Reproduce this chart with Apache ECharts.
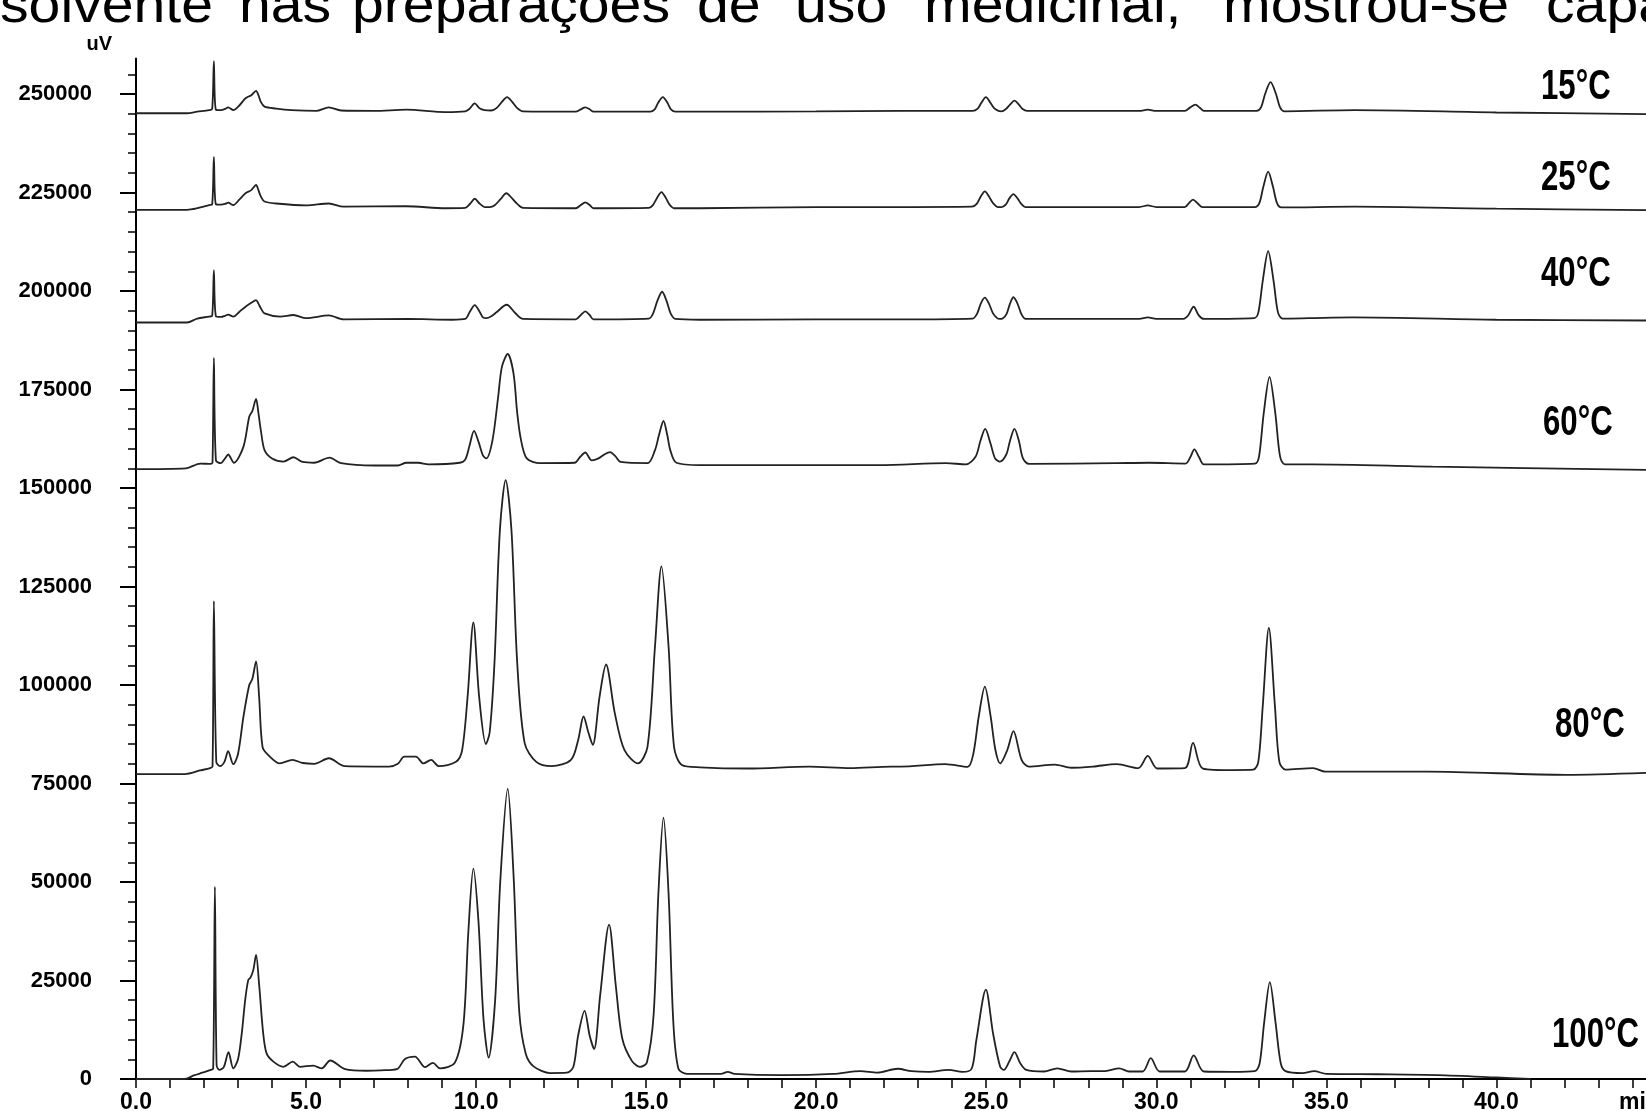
<!DOCTYPE html>
<html><head><meta charset="utf-8">
<script src="https://cdn.jsdelivr.net/npm/echarts@6/dist/echarts.min.js"></script>
<style>html,body{margin:0;padding:0;background:#fff}#c{width:1646px;height:1111px}</style>
</head><body><div id="c"></div>
<script>
// ---- data (time in min, signal in uV) ----
const traceNames = ['15°C', '25°C', '40°C', '60°C', '80°C', '100°C'];

const trace15 = [[0,245100],[1.5,245100],[1.8,245500],[2.15,245900],[2.24,246200],[2.29,258300],[2.35,246000],[2.5,245900],[2.62,246200],[2.71,246600],[2.86,245900],[3.05,247200],[3.22,248900],[3.39,249700],[3.53,250800],[3.6,249700],[3.67,248000],[3.78,246800],[4.12,246300],[4.57,245900],[5.3,245700],[5.67,246600],[6.03,245800],[7.0,245700],[7.95,246000],[9.1,245400],[9.68,245600],[9.8,246200],[9.96,247600],[10.1,246400],[10.25,245900],[10.45,245800],[10.6,246400],[10.76,248000],[10.91,249200],[11.06,248000],[11.21,246400],[11.38,245600],[12.93,245500],[13.08,246100],[13.21,246600],[13.34,246100],[13.45,245500],[15.12,245500],[15.25,246100],[15.35,247700],[15.49,249200],[15.63,247700],[15.73,246100],[15.86,245500],[16.59,245500],[20,245600],[22.47,245700],[24.6,245700],[24.75,246300],[24.86,247800],[24.99,249200],[25.12,247800],[25.23,246400],[25.36,245700],[25.45,245600],[25.58,246200],[25.7,247300],[25.83,248300],[25.96,247300],[26.07,246200],[26.2,245700],[29.5,245700],[29.75,246000],[30,245700],[30.84,245700],[31.0,246600],[31.15,247300],[31.28,246500],[31.4,245700],[32.95,245700],[33.08,246600],[33.2,250000],[33.36,253000],[33.52,250000],[33.64,246600],[33.77,245600],[35.83,245900],[40,245300],[44.4,244900]];

const trace25 = [[0,220600],[1.5,220600],[1.8,221000],[2.15,221800],[2.24,222000],[2.29,234000],[2.35,222000],[2.5,221900],[2.62,222100],[2.71,222400],[2.86,221800],[3.05,223300],[3.22,224800],[3.39,225600],[3.53,226900],[3.6,225600],[3.67,224000],[3.78,222700],[4.12,222200],[5.0,221700],[5.67,222200],[6.1,221400],[7.95,221500],[9.1,221000],[9.68,221100],[9.83,222200],[9.96,223400],[10.1,222200],[10.25,221300],[10.4,221300],[10.54,221700],[10.72,223300],[10.89,224800],[11.06,223500],[11.21,222100],[11.38,221100],[12.93,221000],[13.08,221800],[13.21,222500],[13.34,221800],[13.45,221000],[15.08,221100],[15.2,221800],[15.32,223600],[15.45,225100],[15.58,223600],[15.69,221900],[15.82,221000],[16.59,221000],[20,221300],[22.47,221300],[24.58,221400],[24.72,222100],[24.84,224000],[24.96,225300],[25.08,224000],[25.2,222300],[25.35,221300],[25.45,221300],[25.58,222000],[25.68,223500],[25.8,224600],[25.92,223500],[26.03,222100],[26.15,221300],[29.5,221300],[29.75,221700],[30,221300],[30.84,221300],[30.96,222300],[31.08,223200],[31.22,222200],[31.36,221300],[32.9,221300],[33.03,222300],[33.15,226500],[33.29,230300],[33.43,226500],[33.55,222300],[33.68,221200],[35.83,221400],[40,220900],[44.4,220500]];

const trace40 = [[0,192000],[1.5,192000],[1.8,193000],[2.15,193500],[2.24,193700],[2.29,205300],[2.35,193600],[2.5,193400],[2.62,193700],[2.71,194000],[2.86,193500],[3.05,194800],[3.22,196000],[3.39,197000],[3.53,197700],[3.6,196800],[3.67,195600],[3.78,194300],[4.24,193500],[4.63,193900],[5.0,193100],[5.67,193800],[6.1,192800],[8,192900],[9.3,192700],[9.68,192900],[9.82,194800],[9.96,196400],[10.1,194800],[10.2,193300],[10.3,193100],[10.45,193600],[10.6,194600],[10.9,196500],[11.15,194400],[11.38,192900],[12.93,192800],[13.08,193900],[13.21,194800],[13.34,193900],[13.45,192800],[15.08,193000],[15.2,194200],[15.33,197500],[15.47,199800],[15.6,197500],[15.72,194300],[15.86,192900],[16.59,192700],[20,192800],[22.47,192800],[24.6,193000],[24.73,194200],[24.84,196800],[24.96,198300],[25.08,196800],[25.2,194300],[25.32,193100],[25.4,192900],[25.48,193000],[25.6,194200],[25.7,196800],[25.8,198400],[25.92,196800],[26.03,194200],[26.16,192900],[29.5,192900],[29.75,193300],[30,192900],[30.8,192900],[30.93,193700],[31.1,196000],[31.25,193800],[31.4,192900],[32.88,193100],[33.0,194500],[33.13,202500],[33.29,210100],[33.45,202500],[33.58,194500],[33.72,193000],[34.48,193100],[35.77,193300],[40,192700],[44.4,192500]];

const trace60 = [[0,154800],[1.47,155000],[1.89,156200],[2.2,156100],[2.25,156500],[2.29,183000],[2.35,157000],[2.49,156300],[2.62,157500],[2.71,158500],[2.88,156400],[3.16,160500],[3.33,168100],[3.42,169500],[3.53,172600],[3.6,169000],[3.67,164700],[3.78,159600],[4.0,157500],[4.34,156700],[4.63,157800],[4.9,156600],[5.24,156400],[5.69,157700],[6.03,156300],[7.0,155700],[7.7,155700],[7.95,156400],[8.3,156400],[8.6,156000],[9.52,156400],[9.68,157200],[9.8,160500],[9.94,164500],[10.08,161500],[10.2,158300],[10.3,157500],[10.48,162000],[10.65,173200],[10.76,180800],[10.93,184000],[11.1,179100],[11.21,169000],[11.32,162200],[11.49,157500],[11.88,156300],[12.9,156400],[13.05,157800],[13.21,159000],[13.4,157000],[13.6,157500],[13.77,158500],[13.94,159100],[14.1,158000],[14.25,156600],[15.04,156300],[15.26,159600],[15.38,163500],[15.51,167000],[15.62,163500],[15.71,159600],[15.89,156400],[16.59,155800],[20,155800],[21.88,155800],[23.82,156300],[24.4,156000],[24.69,158000],[24.83,162000],[24.97,165000],[25.12,161500],[25.26,157500],[25.4,156700],[25.59,158500],[25.7,162000],[25.83,165000],[25.96,162000],[26.08,157500],[26.26,156100],[28.78,156300],[29.79,156400],[30.86,156200],[31.0,157800],[31.12,159800],[31.26,157800],[31.4,156000],[32.9,156200],[33.02,157900],[33.16,169000],[33.33,178200],[33.5,169000],[33.64,158000],[33.78,156000],[34.6,156000],[38.12,155400],[44.4,154600]];

const trace80 = [[0,77400],[1.44,77400],[1.88,78300],[2.18,78900],[2.25,79300],[2.29,121300],[2.36,80500],[2.47,79400],[2.6,80500],[2.71,83200],[2.86,79900],[3.0,82500],[3.16,92000],[3.33,100000],[3.42,101500],[3.53,106000],[3.62,97000],[3.72,84300],[3.89,82200],[4.23,80100],[4.6,81000],[4.9,80200],[5.24,80000],[5.67,81400],[6.14,79400],[7.0,79300],[7.44,79300],[7.7,80000],[7.89,81800],[8.23,81800],[8.45,80100],[8.68,81000],[8.9,79400],[9.41,80500],[9.59,83500],[9.75,97000],[9.92,115900],[10.09,97000],[10.29,85000],[10.4,88000],[10.54,105500],[10.7,139300],[10.87,152000],[11.04,139300],[11.21,105500],[11.43,85200],[11.77,80500],[12.22,79400],[12.79,81000],[13.0,86000],[13.16,92000],[13.3,88000],[13.43,84800],[13.63,97000],[13.82,105200],[14.08,92800],[14.36,83500],[14.76,80100],[15.04,84300],[15.26,109700],[15.45,130100],[15.66,109700],[15.82,84300],[16.05,79700],[16.59,79100],[18,78800],[19.8,79300],[21,78900],[22.2,79300],[22.47,79300],[23.8,79900],[24.45,79200],[24.62,82500],[24.78,92000],[24.96,99600],[25.13,92000],[25.27,83500],[25.41,80100],[25.62,83500],[25.8,88300],[26.04,81000],[26.25,79300],[27.02,79800],[27.5,79000],[28.14,79300],[28.84,79900],[29.47,78900],[29.75,82000],[30.03,78800],[30.84,78900],[31.08,85300],[31.37,78800],[32.26,78400],[32.85,78500],[33.0,80500],[33.13,94500],[33.31,114500],[33.49,94500],[33.62,80500],[33.8,78500],[34.61,78900],[34.97,78000],[38,78000],[42.06,77200],[44.4,77700]];

const trace100 = [[0,0],[1.44,0],[1.7,900],[1.95,1600],[2.2,2300],[2.27,2700],[2.32,48800],[2.37,3500],[2.45,2300],[2.58,3000],[2.72,6800],[2.86,2700],[3.0,5000],[3.11,11600],[3.21,20000],[3.3,25100],[3.37,25800],[3.45,27700],[3.53,31500],[3.62,24000],[3.74,11600],[3.84,6500],[4.04,4400],[4.33,3100],[4.61,4400],[4.82,3100],[5.21,3400],[5.46,2700],[5.71,4700],[6.15,2500],[6.78,2100],[7.2,2200],[7.67,2500],[7.91,5100],[8.2,5700],[8.5,3000],[8.73,4100],[8.94,2700],[9.38,4200],[9.63,14000],[9.77,37000],[9.92,53400],[10.07,40000],[10.22,15000],[10.37,5400],[10.56,20000],[10.71,50000],[10.93,73600],[11.1,52000],[11.27,17000],[11.46,6400],[11.69,3200],[12.18,1500],[12.67,1600],[12.86,3100],[13.0,11000],[13.19,17300],[13.34,11000],[13.47,7600],[13.65,21400],[13.91,39200],[14.11,23500],[14.3,10200],[14.58,4600],[14.82,3100],[15.02,4100],[15.22,16300],[15.36,47000],[15.51,66300],[15.66,47000],[15.8,14300],[15.95,2600],[16.2,1300],[17.2,1300],[17.4,1800],[17.6,1300],[19,1000],[20.5,1300],[21.3,2000],[21.8,1600],[22.4,2600],[22.8,2000],[23.3,1800],[23.9,2300],[24.3,1800],[24.57,2600],[24.71,9900],[24.99,22700],[25.2,11600],[25.41,3100],[25.52,2300],[25.68,4500],[25.83,6800],[26.0,4000],[26.18,2300],[26.7,1900],[27.09,2700],[27.5,1900],[28.07,2000],[28.5,2000],[28.91,2700],[29.2,1900],[29.6,1900],[29.84,5300],[30.1,1900],[30.84,1900],[31.1,6000],[31.4,1900],[32.27,1800],[32.9,2000],[33.04,4000],[33.17,14100],[33.34,24600],[33.51,14100],[33.66,4000],[33.8,2000],[34.3,1500],[34.64,2000],[35,1300],[36.5,1200],[38.28,1000],[40,400],[41,0]];

const yMajorTicks = [0,25000,50000,75000,100000,125000,150000,175000,200000,225000,250000];
const yMinorTicks = [0,5000,10000,15000,20000,25000,30000,35000,40000,45000,50000,55000,60000,65000,70000,75000,80000,85000,90000,95000,100000,105000,110000,115000,120000,125000,130000,135000,140000,145000,150000,155000,160000,165000,170000,175000,180000,185000,190000,195000,200000,205000,210000,215000,220000,225000,230000,235000,240000,245000,250000,255000];
const xMinorTicks = [0,1,2,3,4,5,6,7,8,9,10,11,12,13,14,15,16,17,18,19,20,21,22,23,24,25,26,27,28,29,30,31,32,33,34,35,36,37,38,39,40,41,42,43,44];
const xLabelTicks = [0,5,10,15,20,25,30,35,40];
const topLine = ['solvente','nas','preparações','de','uso','medicinal,','mostrou-se','capa'];

// ---- layout / styling ----
const SANS = "'Liberation Sans', Arial, sans-serif";
const traces = [trace15, trace25, trace40, trace60, trace80, trace100];
const labelPos = [[1541,87],[1541,178],[1541,274],[1543,423],[1555,725],[1552,1035]];
const wordX = [0,239,352,697,795,924,1223,1546];

const chart = echarts.init(document.getElementById('c'), null, {renderer:'canvas'});
const option = {
  animation: false,
  backgroundColor: '#fff',
  grid: {left:136, right:0, top:58.5, bottom:32, containLabel:false, outerBoundsMode:'none'},
  xAxis: {
    type:'value', min:0, max:44.4,
    name:'min', nameLocation:'end', nameGap:-27,
    nameTextStyle:{fontFamily:SANS, fontWeight:'bold', fontSize:23, color:'#000', verticalAlign:'top', align:'left', padding:[12,0,0,0]},
    axisLine:{onZero:false, lineStyle:{color:'#000', width:2}},
    axisTick:{customValues:xMinorTicks, length:9, lineStyle:{color:'#000', width:1.5}},
    axisLabel:{customValues:xLabelTicks, margin:12, formatter:(v)=>v.toFixed(1), fontFamily:SANS, fontWeight:'bold', fontSize:23, color:'#000'},
    splitLine:{show:false}
  },
  yAxis: [{
    type:'value', min:0, max:259000,
    name:'uV', nameLocation:'end', nameGap:4,
    nameTextStyle:{fontFamily:SANS, fontWeight:'bold', fontSize:20, color:'#000', align:'right', verticalAlign:'bottom', padding:[0,24,0,0]},
    axisLine:{show:true, onZero:false, lineStyle:{color:'#000', width:2}},
    axisTick:{customValues:yMajorTicks, length:16, lineStyle:{color:'#000', width:2}},
    axisLabel:{customValues:yMajorTicks, margin:44, formatter:(v)=>String(v), fontFamily:SANS, fontWeight:'bold', fontSize:22, color:'#000'},
    splitLine:{show:false}
  },{
    type:'value', min:0, max:259000, position:'left',
    axisLine:{show:false},
    axisTick:{show:true, customValues:yMinorTicks, length:8, lineStyle:{color:'#000', width:1.5}},
    axisLabel:{show:false},
    splitLine:{show:false}
  }],
  series: traces.map((d,i)=>({
    name: traceNames[i], type:'line', data:d, yAxisIndex:0,
    showSymbol:false, symbol:'none', smooth:0.3, silent:true,
    lineStyle:{color:'#222', width:1.8}
  })),
  graphic: [
    ...traceNames.map((n,i)=>({type:'text', x:labelPos[i][0], y:labelPos[i][1], scaleX:0.8, scaleY:1.1, silent:true,
      style:{text:n, font:"bold 39px "+SANS, fill:'#000', align:'left', verticalAlign:'middle'}})),
    ...topLine.map((w,i)=>({type:'text', x:wordX[i], y:8, scaleX:1.1, silent:true,
      style:{text:w, font:"52px "+SANS, fill:'#000', align:'left', verticalAlign:'middle'}}))
  ]
};
chart.setOption(option);
</script></body></html>
